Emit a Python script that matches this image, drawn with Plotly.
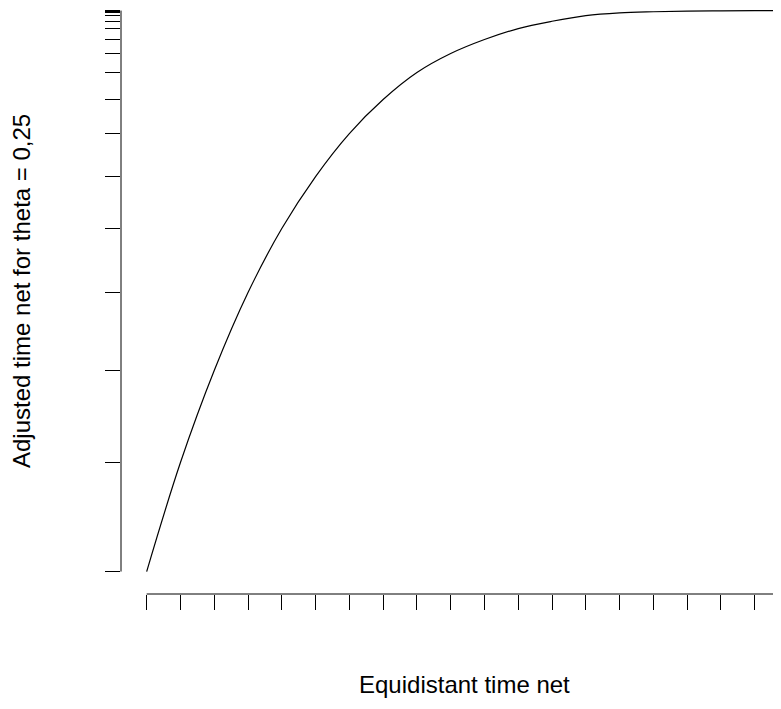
import plotly.graph_objects as go

# Equidistant time net (x) and adjusted time net for theta = 0.25 (y)
equidistant = list(range(20))
adjusted = [0.0, 3.886, 7.166, 9.947, 12.228, 14.082, 15.615, 16.827, 17.790, 18.467,
            18.966, 19.358, 19.619, 19.822, 19.918, 19.957, 19.979, 19.989, 19.996, 19.999]

x_title = "Equidistant time net"
y_title = "Adjusted time net for theta = 0,25"

# page has an 8px body margin on every side; size the div so nothing scrolls
OFF = 8
W, H = 781 - OFF, 709 - 2 * OFF
L, R, T = 121 - OFF, 0, 0
B = H - (594 - OFF)
PW, PH = W - L - R, H - T - B
plot_left, plot_top, plot_bottom = L + OFF, T + OFF, H - B + OFF  # screen coords

# R-style 4% padding, visible window is cropped on right and top
xmin, xmax = min(equidistant), max(equidistant)
px_per_x = 33.78
x_lo = xmin - 0.04 * (xmax - xmin)
x_hi = x_lo + PW / px_per_x

ymin, ymax = min(adjusted), max(adjusted)
px_per_y = 28.05
y_lo = ymin - 0.04 * (ymax - ymin)
y_hi = y_lo + PH / px_per_y

fig = go.Figure()
fig.add_trace(go.Scatter(
    x=equidistant, y=adjusted, mode="lines",
    line=dict(color="black", width=1.2, shape="spline", smoothing=1.0),
    hoverinfo="skip", showlegend=False,
))

# axis lines spanning only first-to-last tick (R style)
fig.add_shape(type="line", xref="paper", yref="y", x0=0, x1=0, y0=ymin, y1=ymax,
              line=dict(color="black", width=1))
fig.add_shape(type="line", xref="x", yref="paper", x0=xmin, x1=xmax, y0=0, y1=0,
              line=dict(color="black", width=1))

fig.update_xaxes(range=[x_lo, x_hi], showgrid=False, zeroline=False, showline=False,
                 ticks="outside", ticklen=15, tickwidth=1, tickcolor="black",
                 tickmode="array", tickvals=equidistant, showticklabels=False)
fig.update_yaxes(range=[y_lo, y_hi], showgrid=False, zeroline=False, showline=False,
                 ticks="outside", ticklen=15, tickwidth=1, tickcolor="black",
                 tickmode="array", tickvals=adjusted, showticklabels=False)

fig.add_annotation(text=x_title, xref="paper", yref="paper",
                   x=(464 - plot_left) / PW, y=-(684 - plot_bottom) / PH,
                   showarrow=False, xanchor="center", yanchor="middle",
                   font=dict(family="Liberation Sans, Arial", size=24, color="black"))
fig.add_annotation(text=y_title, xref="paper", yref="paper",
                   x=(21 - plot_left) / PW, y=1 - (291 - plot_top) / PH,
                   showarrow=False, xanchor="center", yanchor="middle", textangle=-90,
                   font=dict(family="Liberation Sans, Arial", size=24, color="black"))

fig.update_layout(width=W, height=H, margin=dict(l=L, r=R, t=T, b=B, pad=0),
                  plot_bgcolor="white", paper_bgcolor="white")
fig.write_html("out.html")
